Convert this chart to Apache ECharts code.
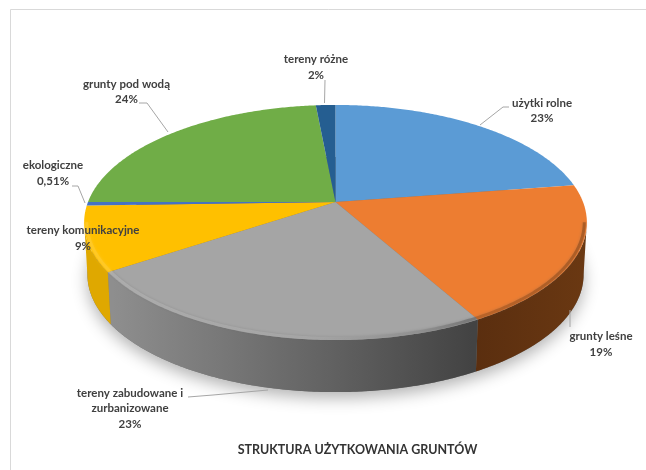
<!DOCTYPE html>
<html lang="pl">
<head>
    <meta charset="UTF-8">
    <title>Struktura użytkowania gruntów</title>
    <script type="text/javascript" src="https://cdn.jsdelivr.net/npm/echarts@6/dist/echarts.min.js"></script>
    <style>
        html, body { margin: 0; padding: 0; background: #fff; }
    </style>
</head>
<body>
<div id="main" style="width: 646px; height: 470px;"></div>

<script type="text/javascript">
    // dane
    var categories = ['użytki rolne', 'grunty leśne', 'tereny zabudowane i\nzurbanizowane', 'tereny komunikacyjne', 'ekologiczne', 'grunty pod wodą', 'tereny różne'];
    var values = [22.6, 19.3, 23.7, 8.9, 0.51, 23.5, 1.49];
    var valueLabels = ['23%', '19%', '23%', '9%', '0,51%', '24%', '2%'];
    var chartTitle = 'STRUKTURA UŻYTKOWANIA GRUNTÓW';

    var colors = ['#5b9bd5', '#ed7d31', '#a5a5a5', '#ffc000', '#4472c4', '#70ad47', '#255e91'];

    // srodek opisu i linia odniesienia dla kazdej kategorii
    var labelPos = [[542, 111], [601, 344.5], [130, 408.5], [83, 238.5], [53, 173.5], [126.5, 92], [316, 67.5]];
    var leaders = [
        [[480, 125], [503, 107], [509, 107]],
        [[570, 310], [570, 327]],
        [[268, 390], [213, 395], [188, 397]],
        null,
        [[85, 203], [78, 186], [72, 186]],
        [[168, 132], [147, 103], [139, 103]],
        [[324.5, 103], [325, 80]]
    ];

    // rzut perspektywiczny kola
    var cx = 335.5, cy = 202, ax = 247.5, by = 114, persp = 0.1745;
    var depth = 52, bottomScale = 0.987;

    var total = values.reduce(function (a, b) { return a + b; }, 0);
    var starts = [];
    var sum = 0;
    for (var i = 0; i < values.length; i++) {
        starts.push(sum / total * 2 * Math.PI);
        sum += values[i];
    }

    function project(t, r) {
        var u = Math.sin(t) * r, v = -Math.cos(t) * r;
        var w = 1 - persp * v;
        return [cx + ax * u / w, cy + by * v / w];
    }
    function projectBottom(t) {
        var p = project(t, 1);
        return [cx + (p[0] - cx) * bottomScale, p[1] + depth];
    }
    function arc(t0, t1, fn) {
        var n = Math.max(2, Math.ceil((t1 - t0) / 0.01));
        var pts = [];
        for (var k = 0; k <= n; k++) {
            pts.push(fn(t0 + (t1 - t0) * k / n));
        }
        return pts;
    }
    function edge(t) { return project(t, 1); }

    // widoczny zakres sciany bocznej
    var sideFrom = Math.PI - Math.acos(persp);
    var sideTo = Math.PI + Math.acos(persp);

    function hGrad(x0, x1, stops) {
        return new echarts.graphic.LinearGradient(x0, 0, x1, 0, stops, true);
    }
    var sideFill = {
        1: hGrad(472, 586, [{offset: 0, color: '#5a2e0f'}, {offset: 1, color: '#6a3812'}]),
        2: hGrad(113, 472, [{offset: 0, color: '#8e8e8e'}, {offset: 0.6, color: '#626262'}, {offset: 1, color: '#434343'}]),
        3: '#dfa800'
    };
    var rimFill = {
        1: hGrad(472, 586, [{offset: 0, color: '#a9561c'}, {offset: 1, color: '#8a4717'}]),
        2: hGrad(110, 475, [{offset: 0, color: '#bdbdbd'}, {offset: 0.55, color: '#b0b0b0'}, {offset: 0.85, color: '#8a8a8a'}, {offset: 1, color: '#5c5c5c'}]),
        3: '#ffcc33'
    };

    function sliceRange(i) {
        return [starts[i], i + 1 < starts.length ? starts[i + 1] : 2 * Math.PI];
    }

    function renderShadow(params, api) {
        return {
            type: 'polygon',
            shape: {points: arc(0, 2 * Math.PI, projectBottom)},
            style: {fill: '#777', shadowBlur: 16, shadowOffsetY: 6, shadowColor: 'rgba(0,0,0,0.3)'}
        };
    }

    function renderSide(params, api) {
        var r = sliceRange(params.dataIndex);
        var t0 = Math.max(r[0], sideFrom), t1 = Math.min(r[1], sideTo);
        if (t1 <= t0 || api.value(0) <= 0) {
            return null;
        }
        var pts = arc(t0, t1, edge).concat(arc(t0, t1, projectBottom).reverse());
        return {
            type: 'polygon',
            shape: {points: pts},
            style: {fill: sideFill[params.dataIndex] || colors[params.dataIndex]}
        };
    }

    function renderTop(params, api) {
        var r = sliceRange(params.dataIndex);
        var pts = [[cx, cy]].concat(arc(r[0], r[1], edge));
        return {
            type: 'polygon',
            shape: {points: pts},
            style: {fill: colors[params.dataIndex]}
        };
    }

    // miekka krawedz gornej powierzchni
    function renderRim(params, api) {
        var r = sliceRange(params.dataIndex);
        var t0 = Math.max(r[0], sideFrom), t1 = Math.min(r[1], sideTo);
        if (t1 <= t0) {
            return null;
        }
        return {
            type: 'polyline',
            shape: {points: arc(t0, t1, function (t) { return project(t, 0.99); })},
            style: {fill: null, stroke: rimFill[params.dataIndex], lineWidth: 3, opacity: 0.55, shadowBlur: 3, shadowColor: rimFill[params.dataIndex] === rimFill[3] ? '#ffcc33' : 'rgba(90,90,90,0.5)'}
        };
    }

    var graphics = [
        {type: 'line', z: 50, shape: {x1: 10.5, y1: 9.5, x2: 10.5, y2: 470}, style: {stroke: '#d9d9d9', lineWidth: 1}},
        {type: 'line', z: 50, shape: {x1: 10.5, y1: 9.5, x2: 646, y2: 9.5}, style: {stroke: '#d9d9d9', lineWidth: 1}}
    ];
    for (var j = 0; j < categories.length; j++) {
        if (leaders[j]) {
            graphics.push({
                type: 'polyline', z: 60,
                shape: {points: leaders[j]},
                style: {fill: null, stroke: '#a6a6a6', lineWidth: 1}
            });
        }
        graphics.push({
            type: 'text', z: 70,
            x: labelPos[j][0], y: labelPos[j][1],
            style: {
                text: categories[j] + '\n' + valueLabels[j],
                align: 'center', verticalAlign: 'middle',
                fill: '#404040',
                font: 'bold 11.5px Lato, "Open Sans", sans-serif',
                lineHeight: 15.5
            }
        });
    }

    var myChart = echarts.init(document.getElementById('main'));
    myChart.setOption({
        animation: false,
        backgroundColor: '#fff',
        title: {
            text: chartTitle,
            left: 352.5, top: 438, textAlign: 'center',
            textStyle: {color: '#333', fontSize: 12.5, fontWeight: 'bold', fontFamily: 'Lato, "Open Sans", sans-serif'}
        },
        graphic: graphics,
        series: [
            {type: 'custom', coordinateSystem: 'none', silent: true, data: [1], renderItem: renderShadow, z: 1},
            {type: 'custom', coordinateSystem: 'none', silent: true, data: values, renderItem: renderSide, z: 2},
            {type: 'custom', coordinateSystem: 'none', silent: true, data: values, renderItem: renderTop, z: 3},
            {type: 'custom', coordinateSystem: 'none', silent: true, data: values, renderItem: renderRim, z: 4}
        ]
    });
</script>
</body>
</html>
